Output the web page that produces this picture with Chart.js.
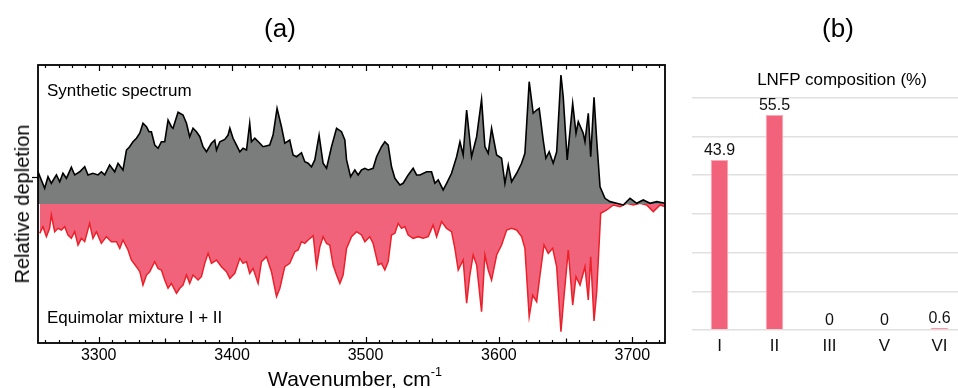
<!DOCTYPE html>
<html>
<head>
<meta charset="utf-8">
<script src="https://cdn.jsdelivr.net/npm/chart.js@4.4.1/dist/chart.umd.min.js"></script>
<style>
  html,body{margin:0;padding:0;background:#fff;}
  body{width:958px;height:388px;overflow:hidden;position:relative;font-family:"Liberation Sans",Arial,Helvetica,sans-serif;color:#000;}
  .wrap{position:absolute;top:0;}
  .t{position:absolute;white-space:nowrap;line-height:1;}
  sup{font-size:0.6em;vertical-align:0;position:relative;top:-0.8em;}
</style>
</head>
<body>
<div class="wrap" style="left:0;width:680px;height:388px;"><canvas id="spec"></canvas></div>
<div class="wrap" style="left:680px;width:290px;height:388px;"><canvas id="bars"></canvas></div>

<div class="t" style="left:280px;top:15px;font-size:26px;transform:translateX(-50%);">(a)</div>
<div class="t" style="left:838px;top:15px;font-size:26px;transform:translateX(-50%);">(b)</div>
<div class="t" style="left:22px;top:204px;font-size:20px;transform:translate(-50%,-50%) rotate(-90deg);">Relative depletion</div>
<div class="t" style="left:355px;top:368px;font-size:21px;transform:translateX(-50%);">Wavenumber, cm<sup>-1</sup></div>
<div class="t" style="left:47px;top:82px;font-size:17px;">Synthetic spectrum</div>
<div class="t" style="left:47px;top:309px;font-size:17px;">Equimolar mixture I + II</div>
<div class="t" style="left:842px;top:71px;font-size:17px;transform:translateX(-50%);">LNFP composition (%)</div>

<script>
// ---------- Panel (a): spectra ----------
const xMin = 3254.5, xMax = 3724.5;
const xTickLabels = [3300, 3400, 3500, 3600, 3700];
const yMarks = [19.5];

const synthWn = [3254.5,3259.5,3262,3264.5,3268.3,3270.8,3273.2,3275.8,3279.5,3282,
3285.8,3289.5,3292,3295.7,3299.5,3302,3304.5,3308.2,3312,3314.5,
3318.2,3320.8,3323.2,3325.7,3328.3,3330.8,3333.2,3335.8,3337.7,3339.5,
3342,3344.5,3347,3349.5,3352,3354.5,3355.7,3359.5,3363.2,3365.8,
3368.2,3370.7,3373.3,3375.8,3378.2,3380.8,3384.5,3387,3388.3,3390.8,
3394.5,3397,3398.3,3400.7,3403.3,3405.8,3408.2,3410.8,3413.2,3414.5,
3417,3420.8,3423.2,3428.2,3430.7,3433.7,3437,3439.5,3443.2,3445.7,
3448.3,3452,3454.5,3457,3459.5,3462,3465.2,3468.2,3470.8,3474.5,
3478.3,3482,3484.5,3485.8,3488.8,3492,3494.5,3497,3499.5,3502,
3505.7,3508.3,3512,3514.5,3517,3519.5,3522,3525.8,3528.2,3532,
3535.7,3538.3,3540.8,3545.8,3549.5,3552,3554.5,3558.2,3560.8,3564.5,
3568.3,3570.8,3573.2,3575.8,3579.5,3583.3,3587,3589.5,3592,3594.5,
3598.3,3602,3604.5,3607,3609.5,3613.3,3617,3619.5,3622.7,3625.7,
3628.3,3630.2,3633.2,3635.2,3637.7,3640.7,3643.3,3646.5,3648.2,3651.2,
3655.3,3657.8,3659.5,3663.2,3664.5,3667,3668.8,3671.3,3673.3,3675.8,
3679.5,3683.3,3688.3,3693.2,3698.3,3703.3,3708.2,3713.3,3718.3,3724.5];
const synthVal = [23.2,11.3,19.6,14.9,20.9,16,22.1,18.5,26.4,20.9,
23.2,26.8,20.9,22.1,20.9,23.2,20.9,28.1,23.2,29.3,
24.5,38.8,41.2,44.8,47.3,50.9,58.1,55.6,52,52,
42.4,40.1,44.8,44.8,60.4,55.6,54.5,66,64,58.1,
48.4,54.5,52,48.4,41.2,37.6,43.7,46,38.8,44.8,
46.5,49.6,54.5,47.3,42.4,37.6,40.1,38.8,58.1,44.8,
47.3,43.7,41.2,42.4,49.6,68.8,55.6,43.7,46,35.3,
34,36.9,30.4,29.3,26.8,31.7,49.6,29.3,25.7,41.2,
54.5,52,46,31.7,19.6,24.5,20.9,24.5,25.7,24.5,
25.7,34,41.2,44.8,42.4,26.8,18.5,13.7,14.9,20.9,
25.7,20.9,20.9,23.2,23.2,14.9,17.3,10.1,14.9,22.1,
34,44.8,35.3,67.6,34,48.4,75.3,41.2,36.5,54.5,
35.3,32.9,14.9,28.1,16,22.1,29.3,36.5,88,65.3,
67.6,68.8,46,32.9,37.6,29.3,37.6,92.8,77.2,31.7,
72.4,50.9,59.2,50.9,44.8,65.3,34,76.8,46,12.4,
4.1,1.7,0.5,-0.7,4.1,0.5,2.9,0.5,1.7,0.5];

const mixWn = [3255.8,3258.2,3260.8,3263.2,3264.5,3267,3269.5,3272,3274.5,3277,
3279.5,3282,3284.5,3287,3289.5,3293.2,3295.7,3298.3,3302,3305.8,
3309.5,3313.3,3315.8,3318.2,3322,3324.5,3328.3,3330.8,3333.2,3335.8,
3338.2,3342,3344.5,3347,3349.5,3352,3354.5,3358.3,3360.8,3363.2,
3365.8,3368.2,3370.7,3374.5,3377,3379.5,3382,3384.5,3388.3,3392,
3395.8,3398.3,3402,3405.8,3408.2,3410.8,3413.2,3415.7,3419.5,3422,
3425.8,3429.5,3433.3,3435.8,3439.5,3443.2,3447,3449.5,3452,3454.5,
3457,3460.8,3463.3,3465.8,3468.2,3470.8,3473.2,3475.7,3478.3,3480.8,
3483.2,3485.8,3489.5,3493.3,3497,3499.5,3503.2,3505.7,3509.5,3512,
3514.5,3517,3519.5,3522,3524.5,3527,3529.5,3532,3535.7,3539.5,
3543.2,3547,3550.7,3553.3,3557,3560.8,3564.5,3567,3569.5,3573.2,
3575.8,3578.2,3580.7,3583.3,3587,3589.5,3592,3594.5,3598.3,3602,
3605.8,3609.5,3613.3,3617,3619.5,3622.7,3625.3,3628.3,3630.8,3633.8,
3637,3640.3,3643.3,3646.5,3648.2,3652,3655.3,3657.8,3660.8,3664.5,
3667,3668.8,3671.3,3673.3,3676.3,3680.8,3685.8,3690.8,3695.8,3700.7,
3705.8,3710.8,3715.7,3720.8,3724.5];
const mixVal = [-21.1,-16.3,-23.5,-17.5,-7.9,-19.9,-17.5,-18.7,-16.3,-22.3,
-24.7,-19.9,-29.5,-24.7,-27.1,-13.9,-24.7,-19.9,-28.3,-23.5,
-27.1,-27.1,-31.9,-25.9,-33.1,-40.3,-45.1,-48.7,-58.3,-51.1,
-48.7,-41.5,-46.3,-47.5,-54.7,-60.6,-57.1,-64.2,-60.6,-58.3,
-51.1,-57.1,-51.1,-54.7,-52.3,-42.7,-35.5,-42.7,-40.3,-45.1,
-48.7,-53.5,-49.9,-39.1,-42.7,-41.5,-49.9,-46.3,-57.1,-41.5,
-37.9,-48.7,-66.7,-60.6,-45.1,-42.7,-34.3,-33.1,-27.1,-28.3,
-25.9,-22.8,-45.1,-30.7,-23.5,-28.3,-29.5,-43.9,-51.1,-57.1,
-51.1,-31.9,-23.5,-19.9,-22.3,-27.1,-23.5,-28.3,-43.9,-42.7,
-47.5,-41.5,-22.3,-21.1,-13.9,-17.5,-16.3,-22.3,-24.7,-23.5,
-24.7,-23.5,-15.1,-23.5,-12.7,-17.5,-19.9,-31.9,-47.5,-40.3,
-71.4,-51.1,-36.7,-43.9,-77.5,-36.7,-47.5,-54.7,-36.7,-29.5,
-18.7,-17.5,-18.7,-23.5,-31.9,-81.1,-65.5,-70.3,-51.1,-29.5,
-35.5,-31.9,-45.1,-91.9,-72.7,-33.1,-72.7,-52.3,-58.3,-45.1,
-69.1,-37.9,-84.2,-63.1,-6.7,-4.3,-0.7,-1.9,0.5,-0.7,
0.5,-0.7,-5.5,-0.7,-1.9];

// ---------- Panel (b): composition ----------
const barLabels = ['I', 'II', 'III', 'V', 'VI'];
const barValues = [43.9, 55.5, 0, 0, 0.6];

Chart.defaults.font.family = '"Liberation Sans", Arial, Helvetica, sans-serif';
Chart.defaults.color = '#000';

const toPts = (xs, ys) => xs.map((x, i) => ({x: x, y: ys[i]}));

const framePlugin = {
  id: 'frame',
  afterDraw(chart) {
    const {ctx, chartArea: a, scales: {x, y}} = chart;
    ctx.save();
    ctx.strokeStyle = '#000';
    ctx.lineWidth = 1.2;
    for (let v = Math.ceil(x.min / 10) * 10; v <= x.max; v += 10) {
      const px = Math.round(x.getPixelForValue(v)) + 0.5;
      const len = v % 100 === 0 ? 6 : (v % 50 === 0 ? 4.5 : 3);
      ctx.beginPath();
      ctx.moveTo(px, a.bottom); ctx.lineTo(px, a.bottom - len);
      ctx.moveTo(px, a.top); ctx.lineTo(px, a.top + len);
      ctx.stroke();
    }
    yMarks.forEach(v => {
      const py = Math.round(y.getPixelForValue(v)) + 0.5;
      ctx.beginPath(); ctx.moveTo(a.left - 6, py); ctx.lineTo(a.left, py); ctx.stroke();
    });
    ctx.lineWidth = 1.8;
    ctx.strokeRect(a.left, a.top, a.right - a.left, a.bottom - a.top);
    ctx.restore();
  }
};

new Chart(document.getElementById('spec'), {
  type: 'line',
  data: {
    datasets: [
      {
        label: 'Synthetic spectrum',
        data: toPts(synthWn, synthVal),
        borderColor: '#000',
        borderWidth: 1.6,
        backgroundColor: 'rgb(123,125,125)',
        fill: 'origin',
        pointRadius: 0,
        tension: 0
      },
      {
        label: 'Equimolar mixture I + II',
        data: toPts(mixWn, mixVal),
        borderColor: 'rgb(234,32,42)',
        borderWidth: 1.5,
        backgroundColor: 'rgb(241,99,122)',
        fill: 'origin',
        pointRadius: 0,
        tension: 0
      }
    ]
  },
  options: {
    responsive: true,
    maintainAspectRatio: false,
    animation: false,
    events: [],
    plugins: {legend: {display: false}, tooltip: {enabled: false}},
    layout: {padding: {left: 0, right: 15, top: 65, bottom: 0}},
    scales: {
      x: {
        type: 'linear', min: xMin, max: xMax,
        grid: {display: false, drawTicks: false},
        border: {display: false},
        afterBuildTicks: s => { s.ticks = xTickLabels.map(v => ({value: v})); },
        ticks: {padding: 3, font: {size: 16}, color: '#000', autoSkip: false, maxRotation: 0, callback: v => String(v)},
        afterFit: s => { s.height = 45; }
      },
      y: {
        min: -100, max: 100,
        grid: {display: false, drawTicks: false},
        border: {display: false},
        ticks: {display: false},
        afterFit: s => { s.width = 38; }
      }
    }
  },
  plugins: [framePlugin]
});

const barLabelPlugin = {
  id: 'barLabels',
  afterDatasetsDraw(chart) {
    const ctx = chart.ctx;
    const meta = chart.getDatasetMeta(0);
    ctx.save();
    ctx.font = '16px "Liberation Sans", Arial, sans-serif';
    ctx.fillStyle = '#111';
    ctx.textAlign = 'center';
    ctx.textBaseline = 'alphabetic';
    meta.data.forEach((el, i) => ctx.fillText(String(barValues[i]), el.x, el.y - 5));
    ctx.restore();
  }
};

new Chart(document.getElementById('bars'), {
  type: 'bar',
  data: {
    labels: barLabels,
    datasets: [{
      label: 'LNFP composition (%)',
      data: barValues,
      backgroundColor: 'rgb(242,99,123)',
      borderColor: 'rgb(249,170,182)',
      borderWidth: 1,
      barPercentage: 0.32,
      categoryPercentage: 1
    }]
  },
  options: {
    responsive: true,
    maintainAspectRatio: false,
    animation: false,
    events: [],
    plugins: {legend: {display: false}, tooltip: {enabled: false}},
    layout: {padding: {left: 12, right: 3, top: 97.5, bottom: 0}},
    scales: {
      x: {
        grid: {display: false, drawTicks: false},
        border: {display: false},
        ticks: {padding: 6, font: {size: 17}, color: '#111'},
        afterFit: s => { s.height = 58; }
      },
      y: {
        min: 0, max: 60,
        ticks: {display: false, stepSize: 10},
        grid: {color: '#e0e0e0', lineWidth: 1.5, drawTicks: false},
        border: {display: false},
        afterFit: s => { s.width = 0; }
      }
    }
  },
  plugins: [barLabelPlugin]
});
</script>
</body>
</html>
